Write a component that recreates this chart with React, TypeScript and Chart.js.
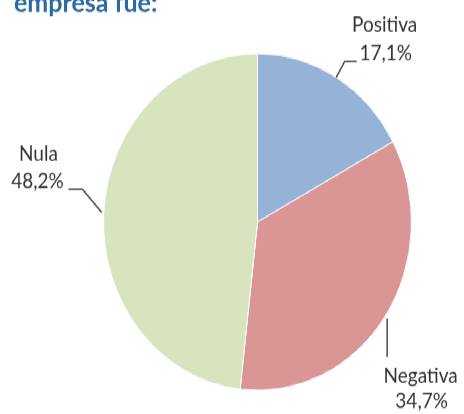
import React, { useEffect, useRef } from "react";
import { Chart, registerables } from "chart.js";

Chart.register(...registerables);

const categories = ["Positiva", "Negativa", "Nula"];
const values = [17.1, 34.7, 48.2];
const valueLabels = ["17,1%", "34,7%", "48,2%"];
const colors = ["#95B3D7", "#DA9694", "#D7E4BD"];
const titleText = "empresa fue:";

// label layout relative to each slice's outer mid-point (pre-stretch px)
const labelLayout = [
  { line: [[0, 0], [8.4, -14.5], [20.4, -14.5]], name: [48.4, -48.3], value: [49.4, -22.3] },
  { line: [[2, 2], [2, 37]], name: [35.5, 55], value: [36.5, 78] },
  { line: [[-2, 0], [-21.3, -21.3], [-35.3, -21.3]], name: [-65.3, -53.3], value: [-66.3, -28.7] },
];

const W = 464;
const H = 379;
const STRETCH = 414 / 378.5;

const labelPlugin = {
  id: "excelLabels",
  afterDraw(chart: any) {
    const ctx = chart.ctx;
    const meta = chart.getDatasetMeta(0);
    ctx.save();
    // title
    ctx.font = "bold 25px Lato";
    ctx.fillStyle = "#2A69A2";
    ctx.textAlign = "left";
    ctx.textBaseline = "alphabetic";
    ctx.fillText(titleText, 14, 11);

    meta.data.forEach((arc: any, i: number) => {
      const p = arc.getProps(["x", "y", "startAngle", "endAngle", "outerRadius"], true);
      const a = (p.startAngle + p.endAngle) / 2;
      const ax = p.x + p.outerRadius * Math.cos(a);
      const ay = p.y + p.outerRadius * Math.sin(a);
      const L = labelLayout[i];
      ctx.strokeStyle = "#4A4A4A";
      ctx.lineWidth = 1.5;
      ctx.beginPath();
      L.line.forEach((pt: number[], k: number) => {
        if (k === 0) ctx.moveTo(ax + pt[0], ay + pt[1]);
        else ctx.lineTo(ax + pt[0], ay + pt[1]);
      });
      ctx.stroke();
      ctx.fillStyle = "#333333";
      ctx.font = "19px Lato";
      ctx.textAlign = "center";
      ctx.textBaseline = "middle";
      ctx.fillText(categories[i], ax + L.name[0], ay + L.name[1]);
      ctx.fillText(valueLabels[i], ax + L.value[0], ay + L.value[1]);
    });
    ctx.restore();
  },
};

export default function App() {
  const ref = useRef<HTMLCanvasElement | null>(null);
  useEffect(() => {
    if (!ref.current) return;
    const chart = new Chart(ref.current, {
      type: "pie",
      data: {
        labels: categories,
        datasets: [
          {
            data: values,
            backgroundColor: colors,
            borderColor: "#FFFFFF",
            borderWidth: 1,
          },
        ],
      },
      options: {
        responsive: false,
        animation: false,
        layout: { padding: { top: 48.5, bottom: 21.5, left: 103, right: 52 } },
        plugins: {
          legend: { display: false },
          tooltip: { enabled: false },
          title: { display: false },
        },
      },
      plugins: [labelPlugin],
    });
    return () => chart.destroy();
  }, []);
  return (
    <div
      style={{
        position: "fixed",
        left: 0,
        top: 0,
        width: W,
        height: H,
        background: "#FFFFFF",
        transform: `scaleY(${STRETCH})`,
        transformOrigin: "0 0",
      }}
    >
      <canvas ref={ref} width={W} height={H} style={{ display: "block" }} />
    </div>
  );
}
